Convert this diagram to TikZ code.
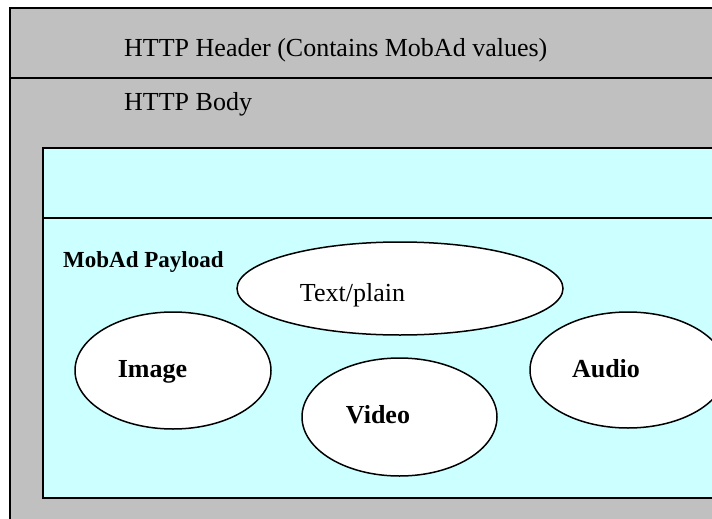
\documentclass[tikz,border=0pt]{standalone}
\usepackage{fontspec}
\setmainfont{Liberation Serif}
\usetikzlibrary{shapes.geometric}
\definecolor{silverbg}{HTML}{C0C0C0}
\definecolor{palecyan}{HTML}{CCFFFF}
\begin{document}
\begin{tikzpicture}[x=1pt,y=-1pt,
  boxline/.style={draw=black,line width=2pt},
  media/.style={ellipse,draw=black,fill=white,line width=1.5pt,inner sep=0pt},
  plaintxt/.style={font=\fontsize{26}{30}\selectfont,inner sep=0pt},
  boldtxt/.style={font=\fontsize{26}{30}\selectfont\bfseries,inner sep=0pt},
  smallbold/.style={font=\fontsize{23}{27}\selectfont\bfseries,inner sep=0pt}]
\useasboundingbox (0,0) rectangle (712,519);
\clip (0,0) rectangle (712,519);
% outer HTTP message
\draw[boxline,fill=silverbg] (10,8) rectangle (760,570);
\coordinate (hdrL) at (10,78);
\coordinate (hdrR) at (760,78);
\draw[boxline] (hdrL) -- (hdrR);
\node[plaintxt,anchor=base west] (hdr) at (124,56.7) {HTTP Header (Contains MobAd values)};
\node[plaintxt,anchor=base west] (body) at (124,110.7) {HTTP Body};
% payload box
\draw[boxline,fill=palecyan] (43,148) rectangle (760,498);
\coordinate (divL) at (43,218);
\coordinate (divR) at (760,218);
\draw[boxline] (divL) -- (divR);
\node[smallbold,anchor=base west] (payload) at (63,267) {MobAd Payload};
% media ellipses
\node[media,minimum width=326pt,minimum height=93pt] (textE) at (400,288.5) {};
\node[media,minimum width=196pt,minimum height=117pt] (imageE) at (173,370.5) {};
\node[media,minimum width=195pt,minimum height=118pt] (videoE) at (399.5,417) {};
\node[media,minimum width=196pt,minimum height=116pt] (audioE) at (628,370) {};
\node[plaintxt,anchor=base] (textL) at (352.5,301) {Text/plain};
\node[boldtxt,anchor=base] (imageL) at (152.5,377) {Image};
\node[boldtxt,anchor=base] (videoL) at (378,423) {Video};
\node[boldtxt,anchor=base] (audioL) at (606,377) {Audio};
\end{tikzpicture}
\end{document}
